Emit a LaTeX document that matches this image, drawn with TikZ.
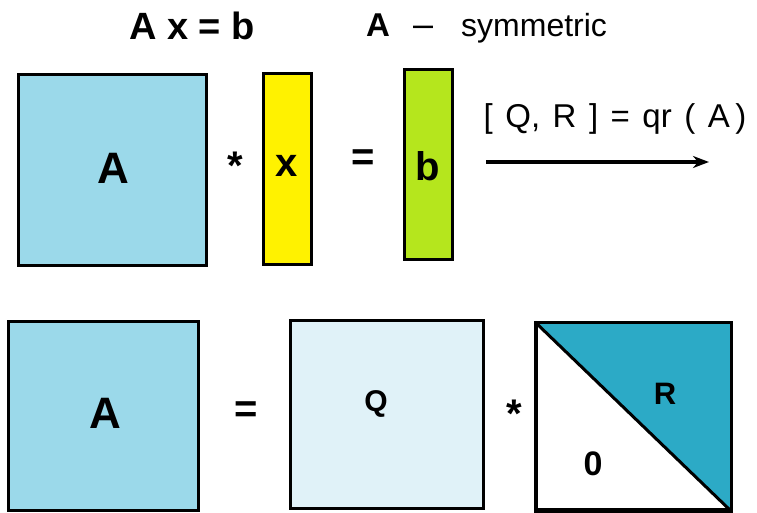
\documentclass[tikz,border=0pt]{standalone}
\usepackage{fontspec}
\setmainfont{Liberation Sans}
\usetikzlibrary{arrows.meta}
\definecolor{ablue}{RGB}{155,217,234}
\definecolor{qblue}{RGB}{224,242,248}
\definecolor{rteal}{RGB}{44,170,198}
\definecolor{xyellow}{RGB}{255,242,0}
\definecolor{bgreen}{RGB}{181,230,29}
\tikzset{
  mat/.style={draw=black, line width=3pt, inner sep=0pt, minimum width=#1},
  big/.style={font=\bfseries\fontsize{44}{48}\selectfont, inner sep=0pt},
  mid/.style={font=\bfseries\fontsize{32}{36}\selectfont, inner sep=0pt},
  op/.style={font=\bfseries\fontsize{40}{44}\selectfont, inner sep=0pt},
}
\begin{document}
\begin{tikzpicture}[x=1pt,y=-1pt]
\useasboundingbox (0,0) rectangle (757,513);
% title line
\node[font=\bfseries\fontsize{38}{42}\selectfont, anchor=base, inner sep=0pt] (eq) at (192,40) {A x = b};
\node[font=\bfseries\fontsize{33}{36}\selectfont, anchor=base west, inner sep=0pt] (asym) at (366,37) {A};
\node[font=\fontsize{36}{40}\selectfont, anchor=base west, inner sep=0pt] (dash) at (413,37) {–};
\node[font=\fontsize{32}{36}\selectfont, anchor=base west, inner sep=0pt] (sym) at (461,37) {symmetric};
% top row
\node[mat=188pt, minimum height=190pt, fill=ablue] (A1) at (112,170) {};
\node[big] at (113,168) {A};
\node[op] (s1) at (235,166) {*};
\node[mat=48pt, minimum height=191pt, fill=xyellow] (xv) at (287.5,169) {};
\node[big, font=\bfseries\fontsize{40}{44}\selectfont] at (287,166) {x};
\node[op] (e1) at (363,160) {=};
\node[mat=48pt, minimum height=190pt, fill=bgreen] (bv) at (428.5,164.5) {};
\node[big, font=\bfseries\fontsize{40}{44}\selectfont] at (428,166) {b};
\coordinate (ar1) at (486,162);
\coordinate (ar2) at (709,162);
\draw[line width=3.2pt, -{Stealth[length=16pt,width=12pt,inset=5pt]}] (ar1) -- (ar2);
\node[font=\fontsize{33}{36}\selectfont, anchor=base, inner sep=0pt, text height=0pt] (qr) at (615,128) {\spaceskip=12.5pt [ Q, R ] = qr ( A\,)};
% bottom row
\node[mat=190pt, minimum height=189pt, fill=ablue] (A2) at (103.5,416) {};
\node[big] at (105,413) {A};
\node[op] (e2) at (246,412) {=};
\node[mat=193pt, minimum height=188pt, fill=qblue] (Q) at (387,414.5) {};
\node[mid, font=\bfseries\fontsize{30}{34}\selectfont] at (376,404) {Q};
\node[op] (s2) at (514,414) {*};
\node[mat=193pt, minimum height=186pt, fill=white] (Rm) at (633,416.5) {};
\fill[rteal] (Rm.north west) -- (Rm.north east) -- (Rm.south east) -- cycle;
\draw[line width=3pt] (Rm.north west) -- (Rm.south east);
\draw[line width=3pt] (Rm.north west) rectangle (Rm.south east);
\node[mid, font=\bfseries\fontsize{31}{34}\selectfont] at (665,394) {R};
\node[mid, font=\bfseries\fontsize{34}{38}\selectfont] at (593,464) {0};
\end{tikzpicture}
\end{document}
